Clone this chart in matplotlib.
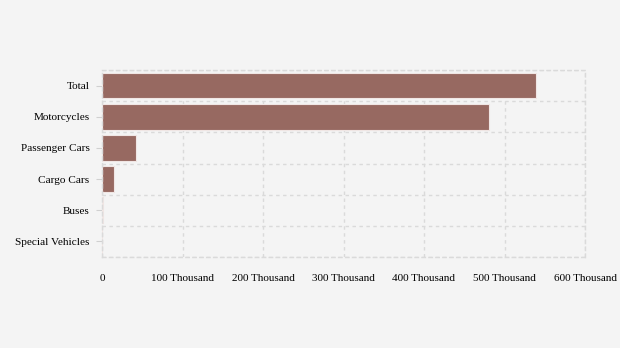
import matplotlib.pyplot as plt
from matplotlib.ticker import FuncFormatter

categories = ["Total", "Motorcycles", "Passenger Cars", "Cargo Cars", "Buses", "Special Vehicles"]
values = [539000, 481000, 42000, 15000, 900, 300]
x_ticks = [0, 100000, 200000, 300000, 400000, 500000, 600000]

plt.rcParams['font.family'] = ['Liberation Serif', 'DejaVu Serif']

fig = plt.figure(figsize=(6.2, 3.48), dpi=100, facecolor='#f4f4f4')
ax = fig.add_axes([102 / 620, 1 - 257 / 348, 483 / 620, 187 / 348])
ax.set_facecolor('#f4f4f4')

pos = list(range(len(categories)))
ax.barh(pos, values, height=0.82, color='#976961', edgecolor='#f0e6e4', linewidth=0.8, zorder=2)

ax.set_ylim(len(categories) - 0.5, -0.5)
ax.set_yticks(pos)
ax.set_yticklabels(categories)
ax.set_xlim(0, 600000)
ax.set_xticks(x_ticks)


def fmt(v, p):
    if v == 0:
        return "0"
    return "%d Thousand" % (v / 1000)


ax.xaxis.set_major_formatter(FuncFormatter(fmt))

# gridlines sit between categories
ax.set_yticks([i + 0.5 for i in range(-1, len(categories))], minor=True)
ax.grid(True, which='minor', axis='y', color='#dadada', linestyle=(0, (2.5, 2.5)), linewidth=1, zorder=1)
ax.grid(True, which='major', axis='x', color='#dadada', linestyle=(0, (2.5, 2.5)), linewidth=1, zorder=1)

for s in ax.spines.values():
    s.set_color('#dadada')
    s.set_linestyle((0, (2.5, 2.5)))
    s.set_linewidth(1)

ax.tick_params(axis='y', which='major', length=4, color='#d0d0d0', labelsize=8.1, pad=5)
ax.tick_params(axis='y', which='minor', length=0)
ax.tick_params(axis='x', length=0, labelsize=8.0, pad=12)

fig.savefig("out.png", dpi=100, facecolor=fig.get_facecolor())
